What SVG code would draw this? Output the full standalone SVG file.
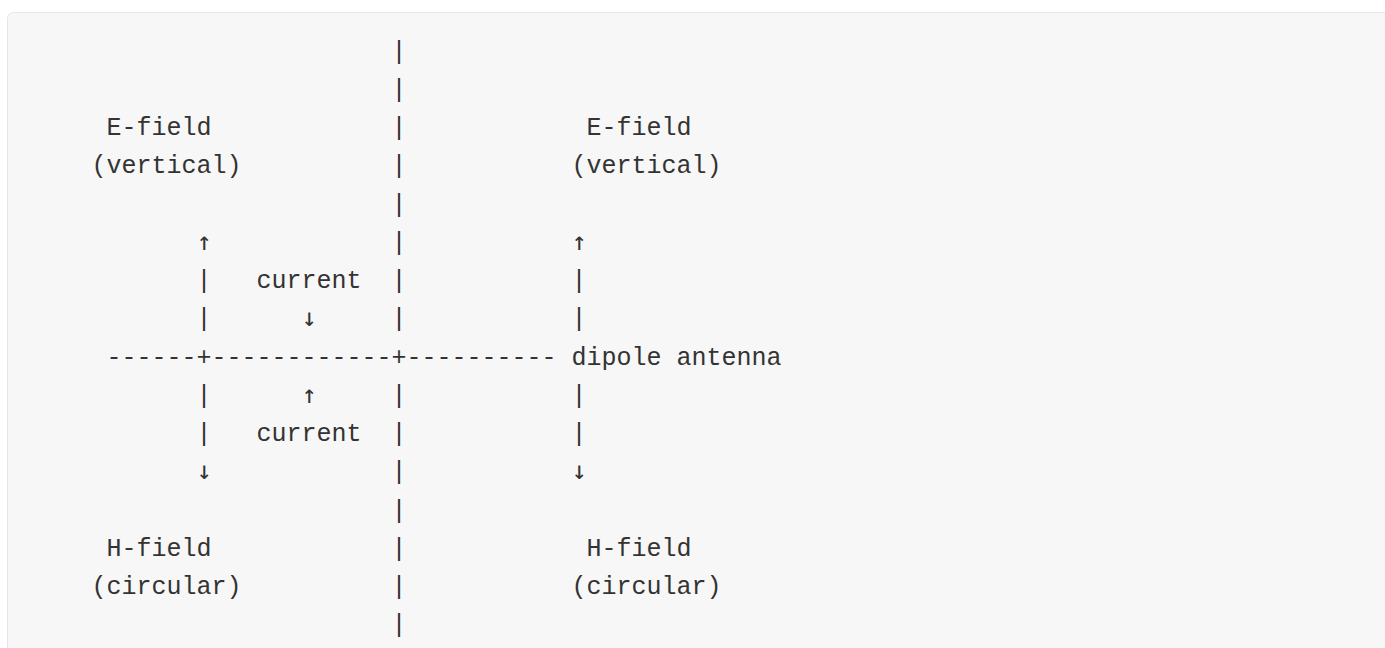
<svg xmlns="http://www.w3.org/2000/svg" width="1385" height="648" viewBox="0 0 1385 648">
  <style>
    .t { font-family: "Liberation Mono", "Courier New", monospace; font-size: 25px; fill: #333333; white-space: pre; }
    .a { font-family: "DejaVu Sans Mono", "DejaVu Sans", monospace; font-size: 25px; fill: #333333; text-anchor: middle; }
  </style>
  <rect x="0" y="0" width="1385" height="648" fill="#ffffff"/>
  <!-- code block panel -->
  <rect x="7.5" y="12.5" width="1420" height="700" rx="6" fill="#f7f7f7" stroke="#e6e6e8" stroke-width="1"/>

  <!-- ASCII linework: antenna, feed line and field arrows -->
  <g id="connectors">
    <g class="t">
      <!-- central vertical line -->
      <text x="391.5" y="58.5">|</text>
      <text x="391.5" y="96.75">|</text>
      <text x="391.5" y="135">|</text>
      <text x="391.5" y="173.25">|</text>
      <text x="391.5" y="211.5">|</text>
      <text x="391.5" y="249.75">|</text>
      <text x="391.5" y="288">|</text>
      <text x="391.5" y="326.25">|</text>
      <text x="391.5" y="402.75">|</text>
      <text x="391.5" y="441">|</text>
      <text x="391.5" y="479.25">|</text>
      <text x="391.5" y="517.5">|</text>
      <text x="391.5" y="555.75">|</text>
      <text x="391.5" y="594">|</text>
      <text x="391.5" y="632.25">|</text>
      <!-- dipole arms -->
      <text x="106.5" y="364.5" xml:space="preserve">------+------------+----------</text>
      <!-- left field line -->
      <text x="196.5" y="288">|</text>
      <text x="196.5" y="326.25">|</text>
      <text x="196.5" y="402.75">|</text>
      <text x="196.5" y="441">|</text>
      <!-- right field line -->
      <text x="571.5" y="288">|</text>
      <text x="571.5" y="326.25">|</text>
      <text x="571.5" y="402.75">|</text>
      <text x="571.5" y="441">|</text>
    </g>
    <g class="a">
      <!-- field arrow tips -->
      <text x="204" y="249.75">↑</text>
      <text x="204" y="479.25">↓</text>
      <text x="579" y="249.75">↑</text>
      <text x="579" y="479.25">↓</text>
      <!-- current direction arrows -->
      <text x="309" y="326.25">↓</text>
      <text x="309" y="402.75">↑</text>
    </g>
  </g>

  <g id="e-field-left" class="t">
    <text x="106.5" y="135">E-field</text>
    <text x="91.5" y="173.25">(vertical)</text>
  </g>
  <g id="e-field-right" class="t">
    <text x="586.5" y="135">E-field</text>
    <text x="571.5" y="173.25">(vertical)</text>
  </g>
  <g id="current-upper" class="t">
    <text x="256.5" y="288">current</text>
  </g>
  <g id="antenna-label" class="t">
    <text x="571.5" y="364.5">dipole antenna</text>
  </g>
  <g id="current-lower" class="t">
    <text x="256.5" y="441">current</text>
  </g>
  <g id="h-field-left" class="t">
    <text x="106.5" y="555.75">H-field</text>
    <text x="91.5" y="594">(circular)</text>
  </g>
  <g id="h-field-right" class="t">
    <text x="586.5" y="555.75">H-field</text>
    <text x="571.5" y="594">(circular)</text>
  </g>
</svg>
